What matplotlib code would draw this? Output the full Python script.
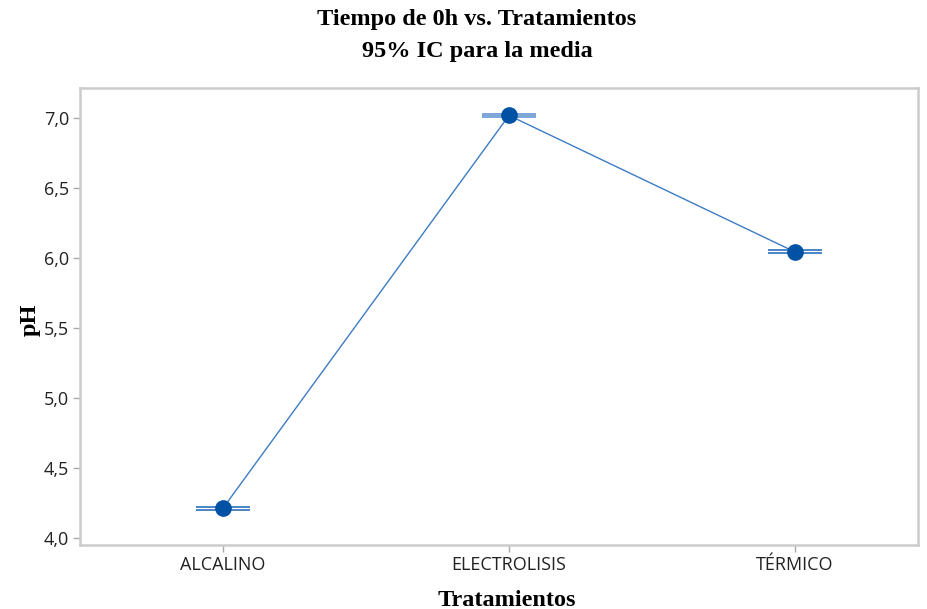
import matplotlib
matplotlib.use("Agg")
import matplotlib.pyplot as plt
import numpy as np

# Treatment means of pH at 0 h with 95% CI half-widths
tratamientos = ["ALCALINO", "ELECTROLISIS", "TÉRMICO"]
media_ph = [4.213, 7.018, 6.043]
ic_mitad = [0.011, 0.018, 0.011]
y_ticks = [4.0, 4.5, 5.0, 5.5, 6.0, 6.5, 7.0]
y_tick_labels = ["4,0", "4,5", "5,0", "5,5", "6,0", "6,5", "7,0"]

fig = plt.figure(figsize=(9.27, 6.09), dpi=100)
ax = fig.add_axes([80 / 927, 1 - 545 / 609, 838 / 927, 457 / 609])

x = np.arange(len(tratamientos))
line_col = "#3d7cc4"
band_col = "#7fa7d8"
mark_col = "#0152a5"

ax.plot(x, media_ph, color=line_col, lw=1.0, zorder=2)
for xi, m, h in zip(x, media_ph, ic_mitad):
    if h > 0.015:
        # caps so close they merge into one light band
        ax.fill_between([xi - 0.095, xi + 0.095], m - h, m + h,
                        color=band_col, lw=0, zorder=3)
    else:
        for yv in (m - h, m + h):
            ax.hlines(yv, xi - 0.095, xi + 0.095, color=line_col, lw=1.3, zorder=3)
ax.plot(x, media_ph, "o", color=mark_col, ms=11, zorder=4)

ax.set_xlim(-0.5, 2.43)
ax.set_ylim(3.95, 7.214)
ax.set_xticks(x)
ax.set_xticklabels(tratamientos, fontsize=13, family="Open Sans", color="#222222")
ax.set_yticks(y_ticks)
ax.set_yticklabels(y_tick_labels, fontsize=13, family="Open Sans", color="#222222")

for s in ax.spines.values():
    s.set_color("#cccccc")
    s.set_linewidth(1.8)
ax.tick_params(axis="both", color="#aaaaaa", length=5, width=1.0, pad=3)

ax.set_xlabel("Tratamientos", fontsize=17.5, family="Liberation Serif",
              fontweight="bold", labelpad=12)
ax.xaxis.set_label_coords(507 / 927 - 80 / 927, -0.0, transform=fig.transFigure)
ax.xaxis.label.set_position((507 / 927, 0))
ax.set_ylabel("pH", fontsize=17.5, family="Liberation Serif",
              fontweight="bold")
ax.yaxis.set_label_coords(30 / 927, 1 - 320 / 609, transform=fig.transFigure)
ax.xaxis.set_label_coords(507 / 927, 1 - 600 / 609, transform=fig.transFigure)
ax.xaxis.label.set_va("center")
ax.yaxis.label.set_va("center")

fig.text(477 / 927, 1 - 20 / 609, "Tiempo de 0h vs. Tratamientos", ha="center", va="center",
         fontsize=17.5, family="Liberation Serif", fontweight="bold")
fig.text(477 / 927, 1 - 52 / 609, "95% IC para la media", ha="center", va="center",
         fontsize=17.5, family="Liberation Serif", fontweight="bold")

fig.savefig("out.png", dpi=100, facecolor="white")
